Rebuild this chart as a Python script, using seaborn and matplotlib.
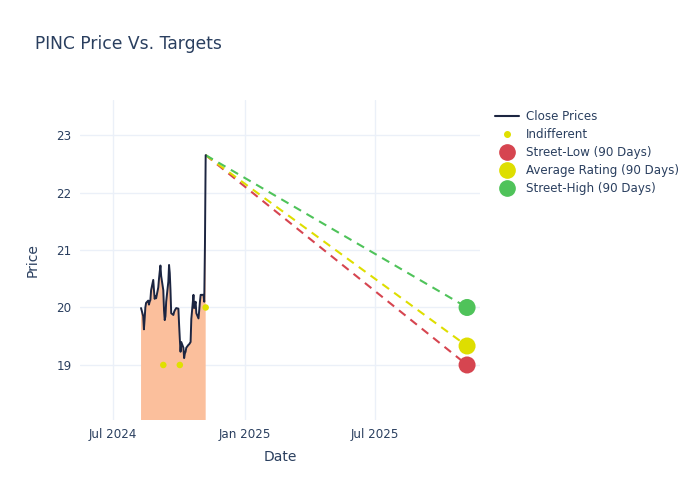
import pandas as pd
import numpy as np
import matplotlib
matplotlib.use("Agg")
import matplotlib.pyplot as plt
import matplotlib.dates as mdates
from matplotlib.lines import Line2D
import seaborn as sns

# close prices, business days from 2024-08-09 to 2024-11-07
close_dates = pd.bdate_range("2024-08-09", "2024-11-07")
close_prices = [
    19.99, 19.85, 19.62, 19.80, 20.00, 20.08, 20.12, 20.05, 20.10, 20.13,
    20.30, 20.48, 20.30, 20.15, 20.20, 20.16, 20.35, 20.50, 20.62, 20.73,
    20.55, 20.30, 19.95, 19.78, 19.85, 20.10, 20.45, 20.74, 20.60, 20.30,
    19.90, 19.87, 19.92, 19.95, 19.97, 19.99, 19.98, 19.70, 19.45, 19.23,
    19.40, 19.30, 19.12, 19.20, 19.23, 19.30, 19.35, 19.36, 19.38, 19.40,
    19.80, 20.22, 19.99, 20.05, 20.10, 19.90, 19.81, 19.95, 20.10, 20.22,
    20.22, 20.22, 20.10, 21.10, 22.65,
]

# analyst ratings (Indifferent)
rating_dates = pd.to_datetime(["2024-09-09", "2024-10-02", "2024-11-07"])
rating_prices = [19.0, 19.0, 20.0]

# 90 day price targets
target_labels = ["Street-Low (90 Days)", "Average Rating (90 Days)", "Street-High (90 Days)"]
target_values = [19.0, 19.33, 20.0]
target_colors = ["#d64550", "#dede00", "#4fc35a"]
target_date = pd.Timestamp("2025-11-06")

line_color = "#1c2541"
fill_color = "#fbbf9c"
text_color = "#2a3f5f"
grid_color = "#ebf0f8"

sns.set_theme(style="white")
plt.rcParams["font.family"] = ["DejaVu Sans"]

fig = plt.figure(figsize=(7, 5), dpi=100)
ax = fig.add_axes([80 / 700, 80 / 500, 400 / 700, 320 / 500])

df = pd.DataFrame({"Date": close_dates, "Price": close_prices})

ax.fill_between(df["Date"], df["Price"], 0, color=fill_color, lw=0, zorder=1)
sns.lineplot(data=df, x="Date", y="Price", color=line_color, lw=1.4, ax=ax, zorder=3)

# dashed lines from the last close to each target
last_date = df["Date"].iloc[-1]
last_price = df["Price"].iloc[-1]
for val, col in zip(target_values, target_colors):
    seg = pd.DataFrame({"Date": [last_date, target_date], "Price": [last_price, val]})
    sns.lineplot(data=seg, x="Date", y="Price", color=col, lw=1.5,
                 linestyle=(0, (4, 3)), ax=ax, zorder=2)

ind = pd.DataFrame({"Date": rating_dates, "Price": rating_prices})
sns.scatterplot(data=ind, x="Date", y="Price", color="#e0e000", s=22,
                edgecolor="none", ax=ax, zorder=4)

tgt = pd.DataFrame({"Date": [target_date] * 3, "Price": target_values, "label": target_labels})
sns.scatterplot(data=tgt, x="Date", y="Price", hue="label", palette=target_colors,
                s=150, edgecolor="none", ax=ax, zorder=5, legend=False)

ax.set_xlim(pd.Timestamp("2024-05-16"), pd.Timestamp("2025-11-24"))
ax.set_ylim(18.043, 23.609)
ax.set_xticks(pd.to_datetime(["2024-07-01", "2025-01-01", "2025-07-01"]))
ax.xaxis.set_major_formatter(mdates.DateFormatter("%b %Y"))
ax.set_yticks([19, 20, 21, 22, 23])

ax.grid(True, color=grid_color, lw=1)
ax.set_axisbelow(True)
for sp in ax.spines.values():
    sp.set_visible(False)
ax.tick_params(axis="both", length=0, labelsize=8.6, colors=text_color, pad=6)
ax.set_xlabel("Date", fontsize=10, color=text_color, labelpad=6)
ax.set_ylabel("Price", fontsize=10, color=text_color, labelpad=12)

fig.text(35 / 700, 1 - 44 / 500, "PINC Price Vs. Targets", fontsize=12.3,
         color=text_color, va="center", ha="left")

handles = [
    Line2D([], [], color=line_color, lw=1.5),
    Line2D([], [], marker="o", ls="none", color="#e0e000", markersize=4),
]
for col in target_colors:
    handles.append(Line2D([], [], marker="o", ls="none", color=col, markersize=11))
labels = ["Close Prices", "Indifferent"] + target_labels
leg = fig.legend(handles, labels, loc="upper left", bbox_to_anchor=(490 / 700, 1 - 105 / 500),
                 frameon=False, fontsize=8.6, labelspacing=0.42, handlelength=2.0,
                 handletextpad=0.6, borderaxespad=0)
for t in leg.get_texts():
    t.set_color(text_color)

fig.savefig("out.png", dpi=100)
